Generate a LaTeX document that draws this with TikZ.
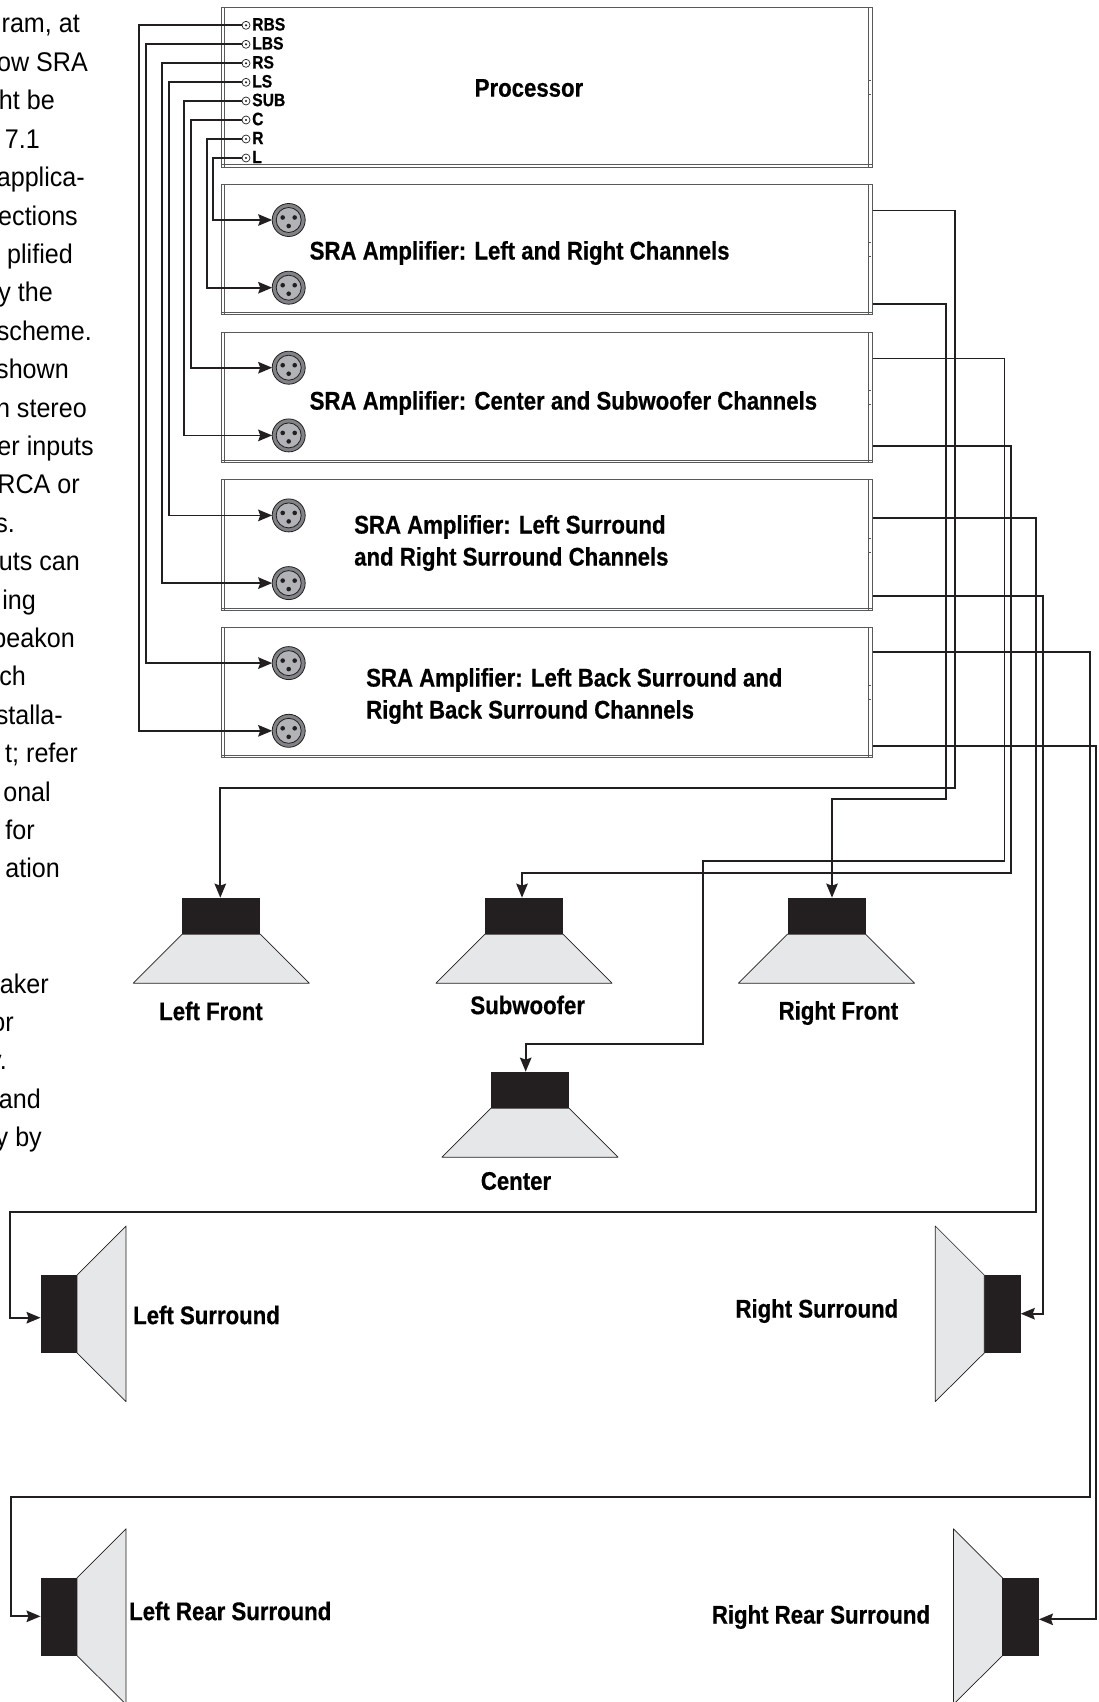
\documentclass[tikz,border=0pt]{standalone}
\usepackage{fontspec}
\usepackage{tikz}
\usetikzlibrary{positioning,arrows.meta}
\newfontfamily\narrowfont{Liberation Sans}[FakeStretch=0.87,BoldFeatures={FakeBold=0.5}]
\newfontfamily\bodyfont{Liberation Sans}[FakeStretch=0.93]
\definecolor{wirecol}{HTML}{231F20}
\definecolor{rackcol}{HTML}{58595B}
\definecolor{conecol}{HTML}{E6E7E8}
\definecolor{ringcol}{HTML}{808285}
\definecolor{facecol}{HTML}{B1B3B6}

\begin{document}
\begin{tikzpicture}[x=1pt, y=-1pt, node distance=17.4pt, >={Stealth[length=14pt,width=11.5pt,inset=2pt]}]
\tikzstyle{rack}=[rectangle, draw=rackcol, line width=1, fill=white, minimum width=651.6, minimum height=130.3, inner sep=0, outer sep=0]
\tikzstyle{rackline}=[draw=rackcol, line width=0.8]
\tikzstyle{wire}=[draw=wirecol, line width=1.8]
\tikzstyle{port}=[circle, draw=wirecol, line width=0.7, minimum size=8, inner sep=0, outer sep=0, path picture={\fill[wirecol] (path picture bounding box.center) circle (1.2);}]
\tikzstyle{portname}=[inner sep=0, font=\narrowfont\bfseries\fontsize{18}{20}\selectfont, right=2pt, yshift=1pt]
\tikzstyle{xlr}=[circle, draw=wirecol, fill=ringcol, line width=0.8, minimum size=33, inner sep=0, outer sep=0, path picture={
  \draw[draw=wirecol, fill=facecol, line width=0.8] (path picture bounding box.center) circle (12.5);
  \fill[wirecol] ([xshift=-6,yshift=2.5]path picture bounding box.center) circle (2.3);
  \fill[wirecol] ([xshift=6,yshift=2.5]path picture bounding box.center) circle (2.3);
  \fill[wirecol] ([yshift=-6]path picture bounding box.center) circle (2.3);}]
\tikzstyle{magnet}=[rectangle, fill=wirecol, inner sep=0, outer sep=0, minimum width=78, minimum height=36.5]
\tikzstyle{sidemagnet}=[magnet, minimum width=36.5, minimum height=78]
\tikzstyle{cone}=[draw=wirecol, fill=conecol, line width=0.7, line join=round]
\tikzstyle{lbl}=[inner sep=0, align=left, font=\narrowfont\bfseries\fontsize{25.5}{32}\selectfont]
\tikzstyle{bodytxt}=[inner sep=0, anchor=base east, font=\bodyfont\fontsize{27}{30}\selectfont]
\useasboundingbox (0,0) rectangle (1099,1702);

\foreach \i/\xpos/\txt in {0/80/{ram, at},1/88/{ow SRA},2/55/{ht be},3/40/{7.1},4/85/{applica-},5/78/{ections},6/73/{plified},7/53/{y the},8/92/{scheme.},9/69/{shown},10/87/{n stereo},11/94/{er inputs},12/80/{RCA or},13/15/{s.},14/80/{uts can},15/36/{ing},16/75/{peakon},17/26/{ch},18/63/{stalla-},19/78/{t; refer},20/51/{onal},21/35/{for},22/60/{ation},25/49/{aker},26/14/{or},27/7/{y.},28/41/{and},29/42/{y by}}
  \node[bodytxt] (body\i) at (\xpos,33+38.4*\i) {\txt};

\node[rack, minimum height=159.7] (proc) at (547,87.2) {};
\node[rack, below=of proc] (ampa) {};
\node[rack, below=of ampa] (ampb) {};
\node[rack, below=of ampb] (ampc) {};
\node[rack, below=of ampc] (ampd) {};
\foreach \rackname in {proc,ampa,ampb,ampc,ampd} {
  \draw[rackline] ([xshift=3]\rackname.north west) -- ([xshift=3]\rackname.south west);
  \draw[rackline] ([xshift=-4.4]\rackname.north east) -- ([xshift=-4.4]\rackname.south east);
  \draw[rackline] ([yshift=2.2]\rackname.south west) -- ([yshift=2.2]\rackname.south east);
  \draw[rackline] ([xshift=-4.4,yshift=7]\rackname.east) -- +(2.2,0);
  \draw[rackline] ([xshift=-4.4,yshift=-7]\rackname.east) -- +(2.2,0);
}

\node[lbl, anchor=center] (lblproc) at (529,88) {Processor};
\node[lbl, anchor=west] (lblampa) at (309.5,253) {SRA Amplifier: Left and Right Channels};
\node[lbl, anchor=west] (lblampb) at (309.5,403) {SRA Amplifier: Center and Subwoofer Channels};
\node[lbl, anchor=west] (lblampc) at (354,543) {SRA Amplifier: Left Surround\\and Right Surround Channels};
\node[lbl, anchor=west] (lblampd) at (366,696) {SRA Amplifier: Left Back Surround and\\Right Back Surround Channels};

\node[port] (rbs) at (246,25.3) {};
\node[port] (lbs) at (246,44.3) {};
\node[port] (rs) at (246,63.3) {};
\node[port] (ls) at (246,82.3) {};
\node[port] (sub) at (246,101) {};
\node[port] (c) at (246,120) {};
\node[port] (r) at (246,139) {};
\node[port] (l) at (246,158) {};
\foreach \port/\txt in {rbs/RBS,lbs/LBS,rs/RS,ls/LS,sub/SUB,c/C,r/R,l/L}
  \node[portname] (name\port) at (\port.east) {\txt};

\node[xlr] (xlra) at (288.7,220) {};
\node[xlr] (xlrb) at (288.7,287.7) {};
\node[xlr] (xlrc) at (288.7,367.7) {};
\node[xlr] (xlrd) at (288.7,435.4) {};
\node[xlr] (xlre) at (288.7,515.4) {};
\node[xlr] (xlrf) at (288.7,583.1) {};
\node[xlr] (xlrg) at (288.7,663.1) {};
\node[xlr] (xlrh) at (288.7,730.8) {};
\foreach \port/\xpos/\jack in {rbs/139/xlrh,lbs/146/xlrg,rs/162/xlrf,ls/169/xlre,sub/184/xlrd,c/191/xlrc,r/207/xlrb,l/213/xlra}
  \draw[wire,->] (\port.west) -- (\port.west -| \xpos,0) |- (\jack.west);

\node[magnet] (lf) at (221.3,915.9) {};
\node[magnet] (sw) at (524,915.9) {};
\node[magnet] (rf) at (826.5,915.9) {};
\node[magnet] (cn) at (530,1089.9) {};
\node[sidemagnet] (ls1) at (58.8,1314) {};
\node[sidemagnet] (rs1) at (1002.5,1314) {};
\node[sidemagnet] (lr1) at (58.8,1616.7) {};
\node[sidemagnet] (rr1) at (1020.7,1616.7) {};
\foreach \spk in {lf,sw,rf,cn}
  \draw[cone] (\spk.south west) -- ++(-49,49) -- ++(176,0) -- (\spk.south east) -- cycle;
\foreach \spk in {ls1,lr1}
  \draw[cone] (\spk.north east) -- ++(49,-49) -- ++(0,175.6) -- (\spk.south east) -- cycle;
\foreach \spk in {rs1,rr1}
  \draw[cone] (\spk.north west) -- ++(-49,-49) -- ++(0,175.6) -- (\spk.south west) -- cycle;

\node[lbl, anchor=center] (lbllf) at (211,1011) {Left Front};
\node[lbl, anchor=center] (lblsw) at (527.7,1005) {Subwoofer};
\node[lbl, anchor=center] (lblrf) at (838.4,1013) {Right Front};
\node[lbl, anchor=center] (lblcn) at (516,1181) {Center};
\node[lbl, anchor=west] (lblls) at (133,1315) {Left Surround};
\node[lbl, anchor=west] (lblrs) at (735.3,1311) {Right Surround};
\node[lbl, anchor=west] (lbllr) at (129,1611) {Left Rear Surround};
\node[lbl, anchor=west] (lblrr) at (711.7,1617) {Right Rear Surround};

\coordinate (outa) at (872.7,210.4);
\coordinate (outb) at (872.7,304);
\coordinate (outc) at (872.7,358.4);
\coordinate (outd) at (872.7,446.3);
\coordinate (oute) at (872.7,518);
\coordinate (outf) at (872.7,596);
\coordinate (outg) at (872.7,651.6);
\coordinate (outh) at (872.7,746);
\draw[wire,->] (outa) -- (954.6,210.4) -- (954.6,788.3) -- (220.3,788.3) -- (lf.north -| 220.3,0);
\draw[wire,->] (outb) -- (945.9,304) -- (945.9,799.3) -- (832,799.3) -- (rf.north -| 832,0);
\draw[wire,->] (outc) -- (1004.5,358.4) -- (1004.5,861) -- (702.6,861) -- (702.6,1043.7) -- (525.7,1043.7) -- (cn.north -| 525.7,0);
\draw[wire,->] (outd) -- (1011,446.3) -- (1011,873.3) -- (522,873.3) -- (sw.north -| 522,0);
\draw[wire,->] (oute) -- (1035.7,518) -- (1035.7,1212.3) -- (9.7,1212.3) -- (9.7,1317.7) -- (ls1.west |- 0,1317.7);
\draw[wire,->] (outf) -- (1043.3,596) -- (1043.3,1313.7) -- (rs1.east |- 0,1313.7);
\draw[wire,->] (outg) -- (1089.7,651.6) -- (1089.7,1496.7) -- (11,1496.7) -- (11,1616.3) -- (lr1.west |- 0,1616.3);
\draw[wire,->] (outh) -- (1095.7,746) -- (1095.7,1619.3) -- (rr1.east |- 0,1619.3);
\end{tikzpicture}
\end{document}
